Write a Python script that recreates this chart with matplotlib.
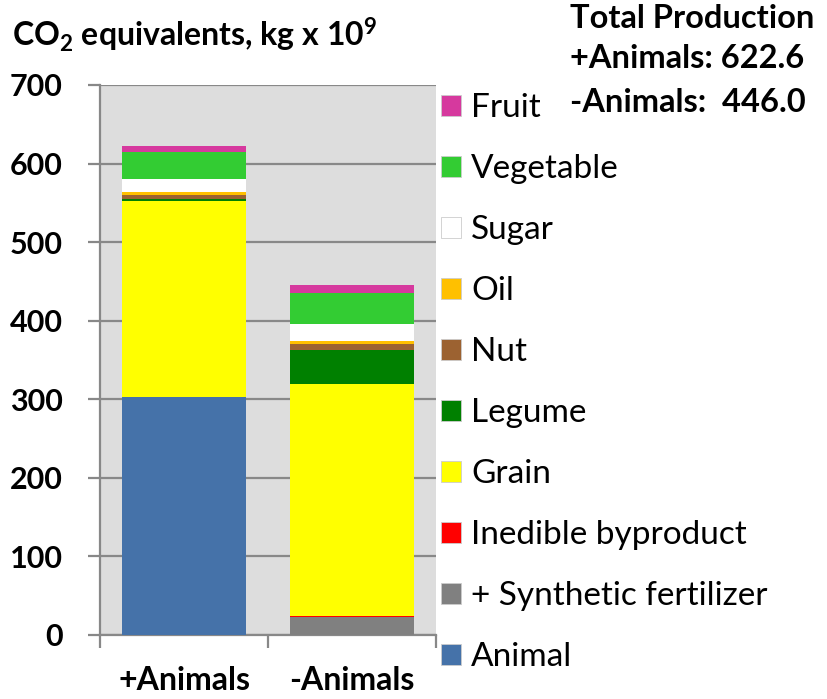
import numpy as np
import matplotlib
matplotlib.use("Agg")
import matplotlib.pyplot as plt

plt.rcParams['font.family'] = ['Lato', 'DejaVu Sans']
plt.rcParams['mathtext.fontset'] = 'custom'
plt.rcParams['mathtext.bf'] = 'Lato:bold'
plt.rcParams['mathtext.rm'] = 'Lato:bold'
plt.rcParams['mathtext.default'] = 'bf'

# datos (kg x 10^9 de CO2 eq.)
escenarios = ["+Animals", "-Animals"]
categorias = ["Animal", "+ Synthetic fertilizer", "Inedible byproduct", "Grain", "Legume",
              "Nut", "Oil", "Sugar", "Vegetable", "Fruit"]
animal = [303.0, 0.0]
fertilizante = [0.0, 22.5]
subproducto = [0.0, 2.0]
grano = [250.0, 294.5]
legumbre = [1.5, 43.7]
nuez = [5.0, 7.7]
aceite = [3.7, 3.8]
azucar = [17.4, 21.2]
verdura = [34.7, 40.3]
fruta = [7.3, 10.3]
totales = [622.6, 446.0]

colores = ["#4572A9", "#808080", "#FF0000", "#FFFF00", "#008000",
           "#9C6231", "#FFC000", "#FFFFFF", "#33CC33", "#D6399E"]

series = [animal, fertilizante, subproducto, grano, legumbre, nuez, aceite, azucar, verdura, fruta]

fig = plt.figure(figsize=(8.27, 6.99), dpi=100)
ax = fig.add_axes([100 / 827, 64 / 699, 336 / 827, 550 / 699])
ax.set_facecolor("#DDDDDD")

x = np.arange(len(escenarios))
base = np.zeros(len(escenarios))
barras = []
for nombre, valores, color in zip(categorias, series, colores):
    b = ax.bar(x, valores, bottom=base, width=0.74, color=color, label=nombre, zorder=3)
    barras.append(b)
    base = base + np.array(valores)

ax.set_xlim(-0.5, 1.5)
ax.set_ylim(0, 700)
ax.set_yticks(range(0, 701, 100))
ax.grid(axis="y", color="#888888", linewidth=1.6, zorder=1)
ax.set_axisbelow(True)

for lado in ["top", "right"]:
    ax.spines[lado].set_visible(False)
ax.spines["left"].set_color("#888888")
ax.spines["left"].set_linewidth(1.6)
ax.spines["bottom"].set_color("#888888")
ax.spines["bottom"].set_linewidth(1.6)

ax.tick_params(axis="y", length=9, width=1.6, color="#888888", pad=18, labelsize=22)
ax.set_xticks(x)
ax.set_xticklabels(escenarios)
ax.set_xticks([-0.5, 0.5, 1.5], minor=True)
ax.tick_params(axis="x", which="major", length=0, pad=22, labelsize=23)
ax.tick_params(axis="x", which="minor", length=9, width=1.6, color="#888888")
for t in ax.get_yticklabels() + ax.get_xticklabels():
    t.set_fontweight("bold")

fig.text(12 / 827, 1 - 35 / 699, "CO$_2$ equivalents, kg x 10$^9$", fontsize=23,
         fontweight="bold", va="center", ha="left")

fig.text(570 / 827, 1 - 18 / 699, "Total Production", fontsize=23.5, fontweight="bold",
         va="center", ha="left")
fig.text(570 / 827, 1 - 58 / 699, f"+Animals: {totales[0]:.1f}", fontsize=23.5,
         fontweight="bold", va="center", ha="left")
fig.text(570 / 827, 1 - 103 / 699, f"-Animals:  {totales[1]:.1f}", fontsize=23.5,
         fontweight="bold", va="center", ha="left")

leg = fig.legend(handles=barras[::-1], loc="upper left", bbox_to_anchor=(441 / 827, 1 - 93 / 699),
                 frameon=False, fontsize=24, handlelength=0.6, handleheight=0.6,
                 handletextpad=0.3, labelspacing=0.93, borderaxespad=0, borderpad=0)
for h in leg.legend_handles:
    h.set_edgecolor("#CCCCCC")
    h.set_linewidth(0.6)

fig.savefig("out.png", dpi=100)
